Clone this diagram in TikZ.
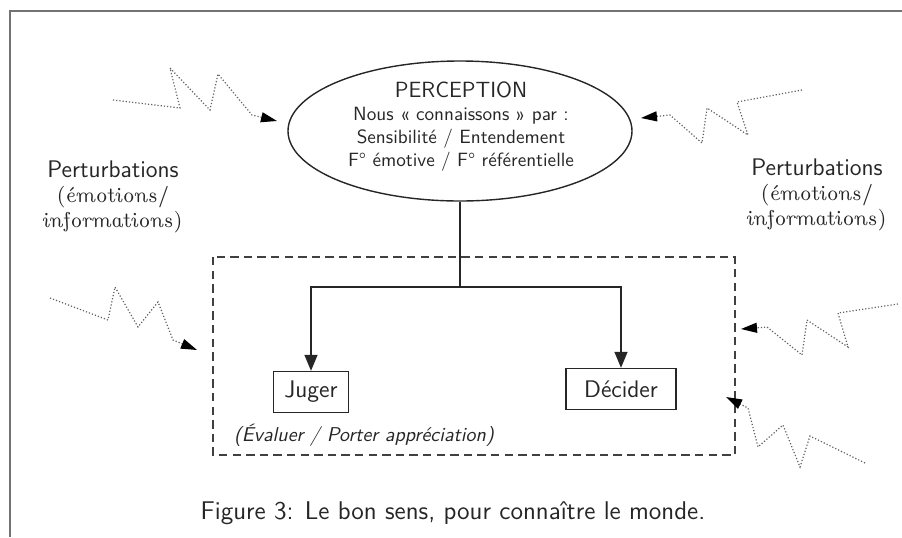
\documentclass[tikz,border=0pt]{standalone}
\usetikzlibrary{shapes.geometric,arrows.meta}
\begin{document}
\begin{tikzpicture}[x=0.5pt,y=-0.5pt,
  font=\sffamily,
  every node/.style={text=black!85},
  frameline/.style={draw=black!55,line width=0.8pt},
  conn/.style={draw=black!85,line width=0.7pt},
  arr/.style={conn,-{Triangle[length=8pt,width=6.5pt]}},
  dashbox/.style={draw=black!75,line width=0.75pt,dash pattern=on 4.2pt off 2.6pt},
  zig/.style={draw=black!62,line width=0.6pt,densely dotted,-{Triangle[length=8pt,width=5pt,color=black]}},
  stepbox/.style={draw=black!85,line width=0.7pt,minimum height=20.5pt,inner sep=0pt,font=\sffamily\fontsize{12}{14}\selectfont},
  pert/.style={align=center,font=\fontsize{10.8}{12.5}\selectfont},
]
\useasboundingbox (0,0) rectangle (902,537);
% frame
\draw[frameline] (902,11) -- (10,11) -- (10,537);

% perception
\node[ellipse,draw=black!85,line width=0.7pt,minimum width=172pt,minimum height=70pt,inner sep=0pt] (perc) at (460,131) {};
\node[align=center,font=\sffamily\fontsize{9.6}{11.5}\selectfont] (perctxt) at (461,127)
  {{\fontsize{11}{12}\selectfont PERCEPTION}\\Nous « connaissons » par :\\Sensibilité / Entendement\\F° émotive / F° référentielle};

% dashed region
\draw[dashbox] (213,257) rectangle (735,455);

% boxes
\node[stepbox,minimum width=37.5pt] (jug) at (311,392) {Juger};
\node[stepbox,minimum width=55pt] (dec) at (621,389) {Décider};
\node[font=\sffamily\itshape\fontsize{10}{12}\selectfont] (eval) at (364,435) {(Évaluer / Porter appréciation)};

% connectors
\coordinate (br) at (460,287);
\draw[conn] (perc.south) -- (br);
\draw[arr] (br) -| (jug.north);
\draw[arr] (br) -| (dec.north);

% perturbation labels
\node[pert] (pl) at (113,197) {{\sffamily\fontsize{12}{12.5}\selectfont Perturbations}\\{\rmfamily\fontshape{ui}\selectfont (émotions/}\\{\rmfamily\fontshape{ui}\selectfont informations)}};
\node[pert] (pr) at (817,195) {{\sffamily\fontsize{12}{12.5}\selectfont Perturbations}\\{\rmfamily\fontshape{ui}\selectfont (émotions/}\\{\rmfamily\fontshape{ui}\selectfont informations)}};

% zigzag arrows
\coordinate (z1s) at (113,100); \coordinate (z1e) at (277,121);
\draw[zig] (z1s) -- (180,108) -- (170,68) -- (210,110) -- (218,74) -- (252,115) -- (z1e);
\coordinate (z2s) at (802,90); \coordinate (z2e) at (641,118);
\draw[zig] (z2s) -- (737,102) -- (748,135) -- (707,108) -- (702,143) -- (670,115) -- (z2e);
\coordinate (z3s) at (50,298); \coordinate (z3e) at (197,350);
\draw[zig] (z3s) -- (108,320) -- (115,287) -- (138,327) -- (158,302) -- (173,340) -- (z3e);
\coordinate (z4s) at (898,304); \coordinate (z4e) at (741,329);
\draw[zig] (z4s) -- (838,313) -- (848,347) -- (807,320) -- (802,355) -- (767,327) -- (z4e);
\coordinate (z5s) at (865,463); \coordinate (z5e) at (726,397);
\draw[zig] (z5s) -- (810,436) -- (800,467) -- (783,425) -- (758,447) -- (748,408) -- (z5e);

% caption
\node[font=\sffamily\fontsize{12.8}{15}\selectfont] (cap) at (453,513) {Figure 3: Le bon sens, pour connaître le monde.};
\end{tikzpicture}
\end{document}
